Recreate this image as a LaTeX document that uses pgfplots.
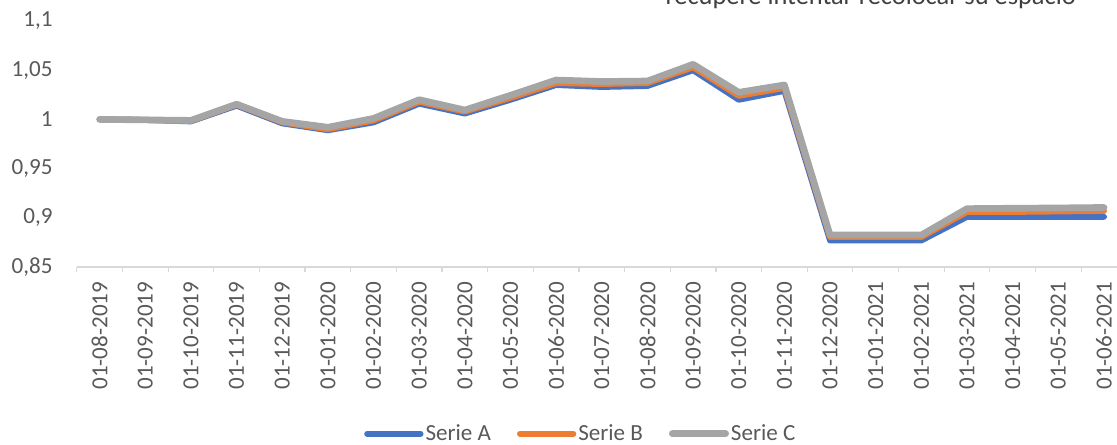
\documentclass[border=0pt]{standalone}
\usepackage{fontspec}
\setmainfont{Carlito}
\usepackage{pgfplots}
\pgfplotsset{compat=1.18}
\definecolor{sA}{HTML}{4472C4}
\definecolor{sB}{HTML}{ED7D31}
\definecolor{sC}{HTML}{A5A5A5}
\definecolor{tc}{HTML}{595959}
\definecolor{axc}{HTML}{D9D9D9}
\begin{document}
\begin{tikzpicture}
\useasboundingbox (0pt,0pt) rectangle (837.75pt,333.75pt);
\begin{axis}[
  at={(57.6pt,133.5pt)}, anchor=south west,
  scale only axis, width=787.5pt, height=184.5pt,
  xmin=-0.5, xmax=22.5, ymin=0.85, ymax=1.1,
  axis x line*=bottom, axis y line*=left,
  x axis line style={draw=axc, line width=0.9pt},
  y axis line style={draw=none},
  xtick={0,...,22},
  xticklabels={01-08-2019,01-09-2019,01-10-2019,01-11-2019,01-12-2019,01-01-2020,01-02-2020,01-03-2020,01-04-2020,01-05-2020,01-06-2020,01-07-2020,01-08-2020,01-09-2020,01-10-2020,01-11-2020,01-12-2020,01-01-2021,01-02-2021,01-03-2021,01-04-2021,01-05-2021,01-06-2021},
  minor xtick={-0.5,0.5,...,22.5},
  ytick={0.85,0.9,0.95,1,1.05,1.1},
  yticklabels={{0,85},{0,9},{0,95},{1},{1,05},{1,1}},
  major tick length=0pt,
  minor tick length=3.75pt,
  tick align=outside,
  minor tick style={draw=axc, line width=0.9pt},
  tick label style={font=\fontsize{17.3}{20}\selectfont, text=tc, inner sep=0pt},
  xticklabel style={rotate=90, anchor=east},
  xticklabel shift=11pt,
  yticklabel style={anchor=east},
  yticklabel shift=18pt,
  legend style={at={(0.48,-0.678)}, anchor=center, draw=none, fill=none,
    font=\fontsize{17.3}{20}\selectfont, text=tc, legend columns=3,
    /tikz/every even column/.append style={column sep=18pt},
    nodes={inner sep=1.5pt}},
  legend image code/.code={\draw[#1, line cap=round] (0pt,0pt) -- (40pt,0pt);},
  every axis plot/.append style={line join=round, line cap=round},
  clip=false,
]
\addplot[sA, line width=4.5pt] coordinates {
(0,1.000) (1,0.9995) (2,0.998) (3,1.014) (4,0.996) (5,0.989) (6,0.997) (7,1.016) (8,1.006) (9,1.020) (10,1.035) (11,1.033) (12,1.034) (13,1.050) (14,1.020) (15,1.029) (16,0.877) (17,0.877) (18,0.877) (19,0.901) (20,0.901) (21,0.901) (22,0.901)};
\addlegendentry{Serie A}
\addplot[sB, line width=4.5pt] coordinates {
(0,1.000) (1,0.9995) (2,0.9985) (3,1.015) (4,0.997) (5,0.990) (6,0.999) (7,1.018) (8,1.008) (9,1.022) (10,1.037) (11,1.036) (12,1.037) (13,1.053) (14,1.024) (15,1.032) (16,0.8805) (17,0.8805) (18,0.8805) (19,0.906) (20,0.906) (21,0.9065) (22,0.907)};
\addlegendentry{Serie B}
\addplot[sC, line width=5pt] coordinates {
(0,1.000) (1,0.9995) (2,0.999) (3,1.0155) (4,0.998) (5,0.992) (6,1.001) (7,1.020) (8,1.0095) (9,1.0245) (10,1.040) (11,1.0385) (12,1.039) (13,1.056) (14,1.0275) (15,1.035) (16,0.8825) (17,0.8825) (18,0.8825) (19,0.9093) (20,0.9097) (21,0.910) (22,0.9105)};
\addlegendentry{Serie C}
\end{axis}
\node[anchor=base east, inner sep=0pt, font=\fontsize{19.8}{23}\selectfont, text={rgb,255:red,64;green,64;blue,64}] at (807pt,330pt) {recupere intentar recolocar su espacio};
\end{tikzpicture}
\end{document}
